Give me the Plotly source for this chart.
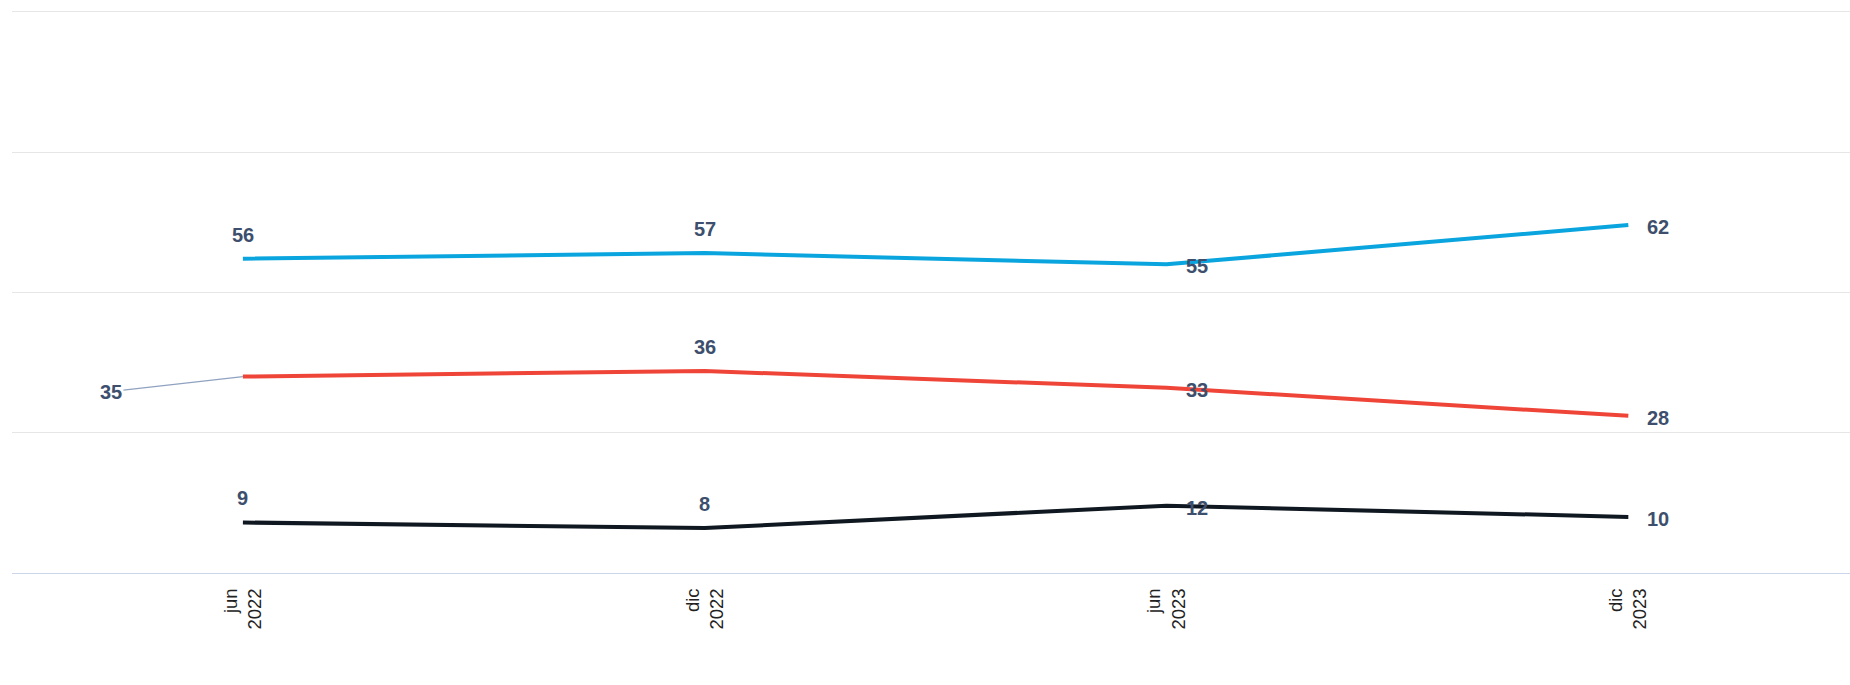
import plotly.graph_objects as go

periods = ["jun 2022", "dic 2022", "jun 2023", "dic 2023"]
serie_azul = [56, 57, 55, 62]
serie_roja = [35, 36, 33, 28]
serie_negra = [9, 8, 12, 10]

series = [
    ("azul", serie_azul, "#0aa5de"),
    ("roja", serie_roja, "#ef4538"),
    ("negra", serie_negra, "#0f1720"),
]
# placement of data labels per column: "top" above the point, "right" beside it
label_side = ["top", "top", "right", "right"]

x_idx = list(range(len(periods)))
ticktext = [p.replace(" ", "<br>") for p in periods]

LABEL_COLOR = "#3d4f6d"
FONT = "Liberation Sans, Arial, sans-serif"

fig = go.Figure()
for name, vals, color in series:
    fig.add_trace(go.Scatter(
        x=x_idx, y=vals, mode="lines", name=name,
        line=dict(color=color, width=4),
        hoverinfo="skip", showlegend=False,
    ))

annotations = []
for name, vals, color in series:
    for i, v in enumerate(vals):
        if name == "roja" and i == 0:
            # label pushed to the left with a connector line
            annotations.append(dict(
                x=i, y=v, xref="x", yref="y", text=str(v),
                showarrow=True, arrowhead=0, arrowwidth=1.2,
                arrowcolor="#8fa2c0", ax=-132, ay=15, standoff=0,
                font=dict(family=FONT, size=20, color=LABEL_COLOR, weight="bold"),
                xanchor="center", yanchor="middle",
            ))
            continue
        if label_side[i] == "top":
            annotations.append(dict(
                x=i, y=v, xref="x", yref="y", text=str(v), showarrow=False,
                xanchor="center", yanchor="middle", yshift=24,
                font=dict(family=FONT, size=20, color=LABEL_COLOR, weight="bold"),
            ))
        else:
            annotations.append(dict(
                x=i, y=v, xref="x", yref="y", text=str(v), showarrow=False,
                xanchor="left", yanchor="middle", xshift=17, yshift=-2,
                font=dict(family=FONT, size=20, color=LABEL_COLOR, weight="bold"),
            ))

fig.update_layout(
    width=1850, height=685,
    margin=dict(l=12, r=0, t=9, b=112),
    paper_bgcolor="white", plot_bgcolor="white",
    annotations=annotations,
    xaxis=dict(
        range=[-0.5, 3.48], tickmode="array", tickvals=x_idx, ticktext=ticktext,
        tickangle=-90, showgrid=False, zeroline=False,
        showline=True, linecolor="#ccd6eb", linewidth=1,
        ticks="", ticklabelstandoff=7,
        tickfont=dict(family=FONT, size=18.5, color="#222222"),
    ),
    yaxis=dict(
        range=[0, 100.5], tickvals=[0, 25, 50, 75, 100], showticklabels=False,
        showgrid=True, gridcolor="#e6e6e6", gridwidth=1, zeroline=False,
    ),
)

fig.write_html("out.html", config={"displayModeBar": False},
               post_script="document.body.style.margin='0';")
